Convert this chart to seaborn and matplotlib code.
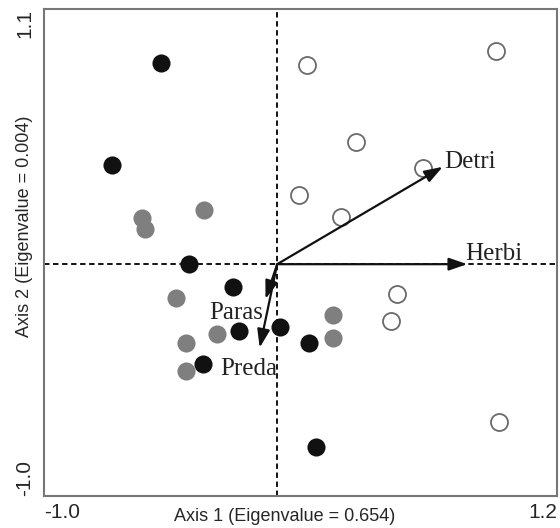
import pandas as pd
import matplotlib
matplotlib.use("Agg")
import matplotlib.pyplot as plt
import seaborn as sns

# Site scores
black_x = [-0.50, -0.71, -0.38, -0.19, -0.165, -0.32, 0.01, 0.135, 0.165]
black_y = [0.87, 0.43, 0.00, -0.10, -0.29, -0.43, -0.27, -0.34, -0.79]
gray_x = [-0.58, -0.565, -0.315, -0.435, -0.26, -0.39, -0.39, 0.24, 0.24]
gray_y = [0.20, 0.15, 0.235, -0.147, -0.30, -0.34, -0.46, -0.22, -0.32]
open_x = [0.127, 0.94, 0.34, 0.625, 0.092, 0.272, 0.513, 0.49, 0.95]
open_y = [0.86, 0.92, 0.526, 0.414, 0.297, 0.203, -0.13, -0.245, -0.68]

# Trophic group vectors
vec_names = ["Detri", "Herbi", "Paras", "Preda"]
vec_x = [0.71, 0.815, -0.05, -0.075]
vec_y = [0.42, 0.0, -0.15, -0.36]

black = pd.DataFrame({"x": black_x, "y": black_y})
gray = pd.DataFrame({"x": gray_x, "y": gray_y})
opn = pd.DataFrame({"x": open_x, "y": open_y})

sns.set_style("white")
fig = plt.figure(figsize=(5.6, 5.28), dpi=100)
ax = fig.add_axes([0.0786, 0.0606, 0.916, 0.922])

ax.axhline(0, color="black", lw=1.3, ls=(0, (3, 2)), zorder=1)
ax.axvline(0, color="black", lw=1.3, ls=(0, (3, 2)), zorder=1)

sns.scatterplot(data=gray, x="x", y="y", ax=ax, s=170, color="#7f7f7f",
                edgecolor="#7f7f7f", linewidth=0, zorder=3)
sns.scatterplot(data=black, x="x", y="y", ax=ax, s=170, color="#111111",
                edgecolor="#111111", linewidth=0, zorder=3)
sns.scatterplot(data=opn, x="x", y="y", ax=ax, s=150, color="white",
                edgecolor="#6a6a6a", linewidth=1.3, zorder=3)

# arrows and labels
label_off = {"Detri": (0.005, 0.02),
             "Herbi": (-0.01, 0.045),
             "Paras": (-0.24, -0.06),
             "Preda": (-0.17, -0.09)}
for name, vx, vy in zip(vec_names, vec_x, vec_y):
    ax.annotate("", xy=(vx, vy), xytext=(0, 0),
                arrowprops=dict(arrowstyle="-|>,head_length=1.1,head_width=0.38",
                                color="#111111", lw=1.6, shrinkA=0, shrinkB=0),
                zorder=4)
    dx, dy = label_off[name]
    ax.text(vx + dx, vy + dy, name, family="Liberation Serif", fontsize=18,
            color="#222222", ha="left", va="center", zorder=5)

ax.set_xlim(-1.0, 1.2)
ax.set_ylim(-1.0, 1.1)
ax.set_xticks([-1.0, -0.5, 0, 0.5, 1.0, 1.2])
ax.set_xticklabels(["-1.0", "", "", "", "", "1.2"], family="Liberation Sans", fontsize=15)
ax.set_yticks([-1.0, -0.5, 0, 0.5, 1.0, 1.1])
ax.set_yticklabels(["-1.0", "", "", "", "", "1.1"], family="Liberation Sans", fontsize=15,
                   rotation=90)
xl = ax.get_xticklabels()
xl[0].set_ha("left")
xl[-1].set_ha("right")
yl = ax.get_yticklabels()
yl[0].set_va("bottom")
yl[-1].set_va("top")
ax.tick_params(axis="both", direction="inout", length=4, width=1, color="#555555",
               pad=3)
ax.tick_params(axis="y", pad=5)

ax.set_xlabel("Axis 1 (Eigenvalue = 0.654)", family="Liberation Sans", fontsize=13)
ax.set_ylabel("Axis 2 (Eigenvalue = 0.004)", family="Liberation Sans", fontsize=13)
ax.xaxis.set_label_coords(0.469, -0.025)
ax.yaxis.set_label_coords(-0.021, 0.554)

for sp in ax.spines.values():
    sp.set_color("#777777")
    sp.set_linewidth(1.5)

fig.savefig("out.png", dpi=100)
